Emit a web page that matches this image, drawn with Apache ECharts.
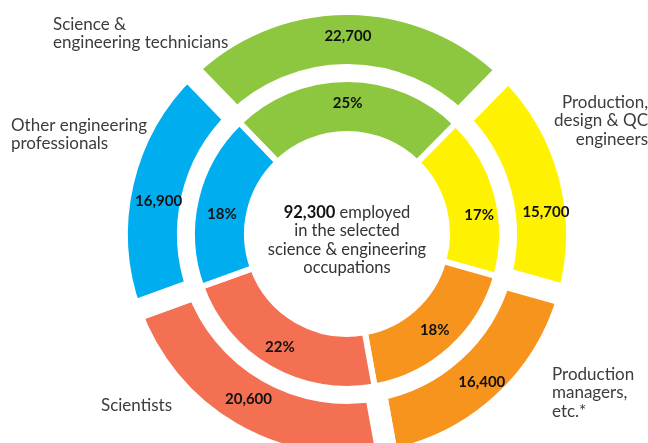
<!DOCTYPE html>
<html>
<head>
<meta charset="utf-8">
<script src="https://cdn.jsdelivr.net/npm/echarts@6/dist/echarts.min.js"></script>
<style>
  html, body { margin: 0; padding: 0; background: #fff; }
  #main { width: 648px; height: 443px; }
</style>
</head>
<body>
<div id="main"></div>
<script>
// occupations, clockwise from the top
const categories = [
  'Science &\nengineering technicians',
  'Production,\ndesign & QC\nengineers',
  'Production\nmanagers,\netc.*',
  'Scientists',
  'Other engineering\nprofessionals'
];
const employed = [22700, 15700, 16400, 20600, 16900];
const totalEmployed = employed.reduce((a, b) => a + b, 0);

const colors = ['#8dc63f', '#fff200', '#f7941d', '#f37053', '#00aeef'];

// small hand nudges for the labels (the original is a designed graphic)
const outerNudge = [[0, 0], [8, 29], [2, 2], [0, -6], [4, 12]];
const innerNudge = [[0, 0], [6, 15], [0, 0], [-2, 0], [2, 10]];

// where the category names sit around the rings
const namePos = [
  { x: 53, y: 15, align: 'left' },
  { x: 648, y: 93, align: 'right' },
  { x: 552, y: 365, align: 'left' },
  { x: 101, y: 396, align: 'left' },
  { x: 11, y: 116, align: 'left' }
];

const font = 'Lato';
const cx = 347, cy = 234;

const chartDom = document.getElementById('main');
const myChart = echarts.init(chartDom, null, { renderer: 'canvas' });

const data = employed.map((v, i) => ({
  name: categories[i],
  value: v,
  itemStyle: { color: colors[i] }
}));

const labelBase = {
  show: true,
  position: 'inside',
  rotate: 0,
  color: '#111',
  fontFamily: font,
  fontWeight: 'bold',
  fontSize: 15,
  textBorderWidth: 0
};

const option = {
  animation: false,
  backgroundColor: '#fff',
  series: [
    {
      // outer ring: head counts
      type: 'pie',
      z: 1,
      center: [cx, cy],
      radius: [159, 230],
      startAngle: 134,
      silent: true,
      avoidLabelOverlap: false,
      itemStyle: { borderColor: '#fff', borderWidth: 22 },
      label: Object.assign({}, labelBase, {
        formatter: p => p.value.toLocaleString('en-US')
      }),
      labelLine: { show: false },
      labelLayout: p => ({ dx: outerNudge[p.dataIndex][0], dy: outerNudge[p.dataIndex][1] }),
      data: data
    },
    {
      // inner ring: shares
      type: 'pie',
      z: 2,
      center: [cx, cy],
      radius: [100, 155],
      startAngle: 134,
      silent: true,
      avoidLabelOverlap: false,
      percentPrecision: 0,
      itemStyle: { borderColor: '#fff', borderWidth: 6 },
      label: Object.assign({}, labelBase, {
        formatter: '{d}%'
      }),
      labelLine: { show: false },
      labelLayout: p => ({ dx: innerNudge[p.dataIndex][0], dy: innerNudge[p.dataIndex][1] }),
      data: data
    }
  ],
  graphic: [
    {
      type: 'text',
      x: cx,
      y: 203,
      z: 100,
      silent: true,
      style: {
        text: '{b|' + totalEmployed.toLocaleString('en-US') + '} employed\nin the selected\nscience & engineering\noccupations',
        fill: '#333',
        fontFamily: font,
        fontSize: 16.5,
        lineHeight: 18.5,
        textAlign: 'center',
        textVerticalAlign: 'top',
        rich: {
          b: { fontFamily: font, fontSize: 16.5, fontWeight: 'bold', lineHeight: 18.5, fill: '#111' }
        }
      }
    }
  ].concat(categories.map((c, i) => ({
    type: 'text',
    x: namePos[i].x,
    y: namePos[i].y,
    z: 100,
    silent: true,
    style: {
      text: c,
      fill: '#3c3c3c',
      fontFamily: font,
      fontSize: 17,
      lineHeight: 18.5,
      textAlign: namePos[i].align,
      textVerticalAlign: 'top'
    }
  })))
};

option && myChart.setOption(option);
</script>
</body>
</html>
